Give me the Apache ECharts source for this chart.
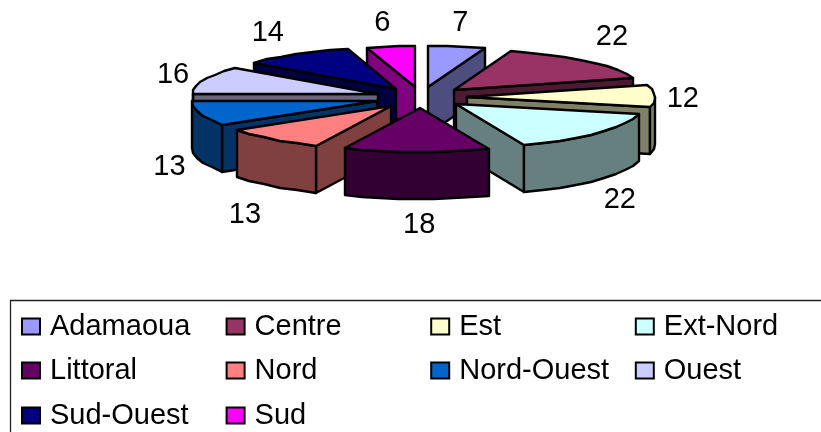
<!DOCTYPE html>
<html>
<head>
<meta charset="utf-8">
<style>html,body{margin:0;padding:0;background:#fff}#c{width:821px;height:432px}</style>
<script src="https://cdn.jsdelivr.net/npm/echarts@6/dist/echarts.min.js"></script>
</head>
<body>
<div id="c"></div>
<script>
// Regions, clockwise from twelve o'clock
const regions = ['Adamaoua','Centre','Est','Ext-Nord','Littoral','Nord','Nord-Ouest','Ouest','Sud-Ouest','Sud'];
const counts = [7,22,12,22,18,13,13,16,14,6];
const topColors = ['#9999FF','#993366','#FFFFCC','#CCFFFF','#660066','#FF8080','#0066CC','#CCCCFF','#000080','#FF00FF'];
const wallColors = ['#4D4D80','#4D1A33','#808066','#668080','#330033','#804040','#003366','#666680','#000040','#800080'];
// Back-to-front painting order of the slices
const paintOrder = ['Sud','Adamaoua','Sud-Ouest','Centre','Ouest','Est','Nord-Ouest','Ext-Nord','Nord','Littoral'];

// Tilted-disc projection
const pie = {cx:421, cy:97.5, rxRight:188, rxLeft:185, ryBack:41, ryFront:44, height:47, explodeX:46, explodeY:10.5, labelRx:263, labelRy:80, arcStep:6};
// Small hand adjustments of the value labels, region by region
const labelNudge = [[-1,5],[4,-4],[-1,4],[0,3],[4,1],[-6,9],[0,-1],[0,4],[-11,3],[-4,5]];
const legendLayout = {left:21, top:[312,356,401], colWidth:204.6, perRow:4};

const total = counts.reduce((a, b) => a + b, 0);
const rad = d => d * Math.PI / 180;

function startAngle(i) {
  let s = 0;
  for (let k = 0; k < i; k++) s += counts[k];
  return s / total * 360;
}

function sliceShapes(i, value) {
  const a0 = startAngle(i), a1 = a0 + value / total * 360, mid = (a0 + a1) / 2;
  const ax = pie.cx + pie.explodeX * Math.sin(rad(mid));
  const ay = pie.cy - pie.explodeY * Math.cos(rad(mid));
  const rim = a => {
    const c = Math.cos(rad(a)), s = Math.sin(rad(a));
    return [Math.round(ax + (s < 0 ? pie.rxLeft : pie.rxRight) * s), Math.round(ay - (c < 0 ? pie.ryFront : pie.ryBack) * c)];
  };
  const arc = (from, to) => {
    const n = Math.max(1, Math.round((to - from) / pie.arcStep)), pts = [];
    for (let k = 0; k <= n; k++) pts.push(rim(from + (to - from) * k / n));
    return pts;
  };
  const down = p => [p[0], p[1] + pie.height];
  const apex = [Math.round(ax), Math.round(ay)];
  const line = {stroke:'#000', lineWidth:2.4, lineJoin:'round'};
  const poly = (points, fill) => ({type:'polygon', shape:{points}, style:Object.assign({fill}, line), silent:true});
  const children = [];
  const wall = wallColors[i];

  // Radial walls that face the viewer
  const s0 = Math.sin(rad(a0)), s1 = Math.sin(rad(a1));
  if (s0 < -1e-6) { const t = rim(a0); children.push(poly([apex, t, down(t), down(apex)], wall)); }
  if (s1 > 1e-6) { const t = rim(a1); children.push(poly([apex, t, down(t), down(apex)], wall)); }

  // Outer wall on the near half of the rim
  const f0 = Math.max(a0, 90), f1 = Math.min(a1, 270);
  if (f1 > f0) {
    const o = arc(f0, f1);
    children.push(poly(o.concat(o.slice().reverse().map(down)), wall));
  }

  // Top face
  children.push(poly([apex].concat(arc(a0, a1)), topColors[i]));

  // Value label just outside the slice
  const cm = Math.cos(rad(mid));
  children.push({
    type:'text', silent:true,
    style:{
      text:String(value),
      x:pie.cx + pie.labelRx * Math.sin(rad(mid)) + labelNudge[i][0],
      y:pie.cy - pie.labelRy * cm + (cm < 0 ? pie.height : 0) + labelNudge[i][1],
      font:'29px "Liberation Sans"', fill:'#000', align:'center', verticalAlign:'middle'
    }
  });
  return {type:'group', children};
}

const series = regions.map((name, i) => ({
  type:'custom', name, coordinateSystem:'none',
  z:2 + paintOrder.indexOf(name),
  itemStyle:{color:topColors[i]},
  data:[[counts[i]]],
  animation:false,
  renderItem:(params, api) => sliceShapes(i, api.value(0))
}));

const legends = regions.map((name, i) => ({
  data:[name], orient:'horizontal', padding:0,
  left:legendLayout.left + (i % legendLayout.perRow) * legendLayout.colWidth,
  top:legendLayout.top[Math.floor(i / legendLayout.perRow)],
  icon:'rect', itemWidth:18, itemHeight:16, itemGap:0, selectedMode:false,
  itemStyle:{borderColor:'#000', borderWidth:2},
  textStyle:{fontFamily:'Liberation Sans', fontSize:29, color:'#000', padding:[0,0,0,5]}
}));

const chart = echarts.init(document.getElementById('c'), null, {renderer:'canvas'});
chart.setOption({
  animation:false,
  backgroundColor:'#fff',
  graphic:[{type:'rect', silent:true,
    shape:{x:10.5, y:300.5, width:830, height:160}, style:{fill:'none', stroke:'#222', lineWidth:1.3}}],
  legend:legends,
  series
});
</script>
</body>
</html>
